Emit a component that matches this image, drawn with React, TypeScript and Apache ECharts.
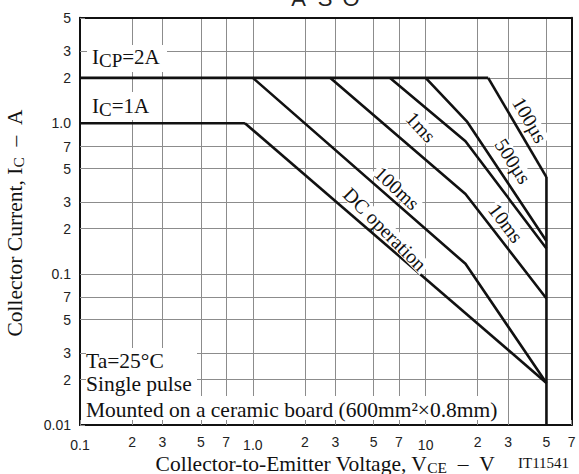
import React, { useEffect, useRef } from "react";
import * as echarts from "echarts";

// ---- axis ticks (real values) ----
const xTicks = [0.1, 0.2, 0.3, 0.5, 0.7, 1, 2, 3, 5, 7, 10, 20, 30, 50, 70];
const xTickLabels = ["0.1", "2", "3", "5", "7", "1.0", "2", "3", "5", "7", "10", "2", "3", "5", "7"];
const yTicks = [0.01, 0.02, 0.03, 0.05, 0.07, 0.1, 0.2, 0.3, 0.5, 0.7, 1, 2, 3, 5];
const yTickLabels = ["0.01", "2", "3", "5", "7", "0.1", "2", "3", "5", "7", "1.0", "2", "3", "5"];
const xRange = [0.1, 70];
const yRange = [0.01, 5];

// ---- curves: [VCE (V), IC (A)] ----
const icpLimit = [[0.1, 2], [23, 2]];
const icLimit = [[0.1, 1], [0.9, 1]];
const dcOperation = [[0.9, 1], [50, 0.019]];
const pulse100ms = [[1.0, 2], [17, 0.117], [50, 0.019]];
const pulse10ms = [[2.8, 2], [17, 0.34], [50, 0.069]];
const pulse1ms = [[6.2, 2], [17, 0.76], [50, 0.148]];
const pulse500us = [[10, 2], [17.3, 1.03], [50, 0.166]];
const pulse100us = [[23, 2], [50, 0.44]];
const vceoLimit = [[50, 0.44], [50, 0.01]];

const curves = [
  icpLimit,
  icLimit,
  dcOperation,
  pulse100ms,
  pulse10ms,
  pulse1ms,
  pulse500us,
  pulse100us,
  vceoLimit,
];

const SERIF = '"Liberation Serif", "Times New Roman", Times, serif';
const SANS = '"Liberation Sans", Arial, Helvetica, sans-serif';
const INK = "#111";
const GRID = "#8c8c8c";

const lg = (v: number) => Math.log10(v);
const toLog = (pts: number[][]) => pts.map(([x, y]) => [lg(x), lg(y)]);

const findLabel = (ticks: number[], labels: string[], v: number) => {
  const i = ticks.findIndex((t) => Math.abs(lg(t) - v) < 1e-6);
  return i >= 0 ? labels[i] : "";
};

const richMain = (size: number) => ({ fontSize: size, fontFamily: SERIF, fill: INK });
const richSub = (size: number, drop: number) => ({
  fontSize: size,
  fontFamily: SERIF,
  fill: INK,
  padding: [drop, 0, 0, 0],
});

const txt = (x: number, y: number, style: any, extra: any = {}) => ({
  type: "text",
  x,
  y,
  z: 5,
  style: { fill: INK, align: "left", verticalAlign: "middle", ...style },
  ...extra,
});

const box = (x: number, y: number, w: number, h: number) => ({
  type: "rect",
  z: 2,
  shape: { x, y, width: w, height: h },
  style: { fill: "#fff" },
});

const curveLabel = (text: string, x: number, y: number, deg: number, w: number) => {
  const rotation = (-deg * Math.PI) / 180;
  return [
    {
      type: "rect",
      x,
      y,
      rotation,
      z: 2,
      shape: { x: -w / 2, y: -8, width: w, height: 16 },
      style: { fill: "#fff" },
    },
    {
      type: "text",
      x,
      y,
      rotation,
      z: 5,
      style: { text, fontSize: 20, fontFamily: SERIF, fill: INK, align: "center", verticalAlign: "middle" },
    },
  ];
};

const frameAxis = (position: string) => ({
  type: "value",
  position,
  min: position === "top" ? lg(xRange[0]) : lg(yRange[0]),
  max: position === "top" ? lg(xRange[1]) : lg(yRange[1]),
  axisLine: { show: true, onZero: false, lineStyle: { color: INK, width: 2 } },
  axisTick: { show: false },
  axisLabel: { show: false },
  splitLine: { show: false },
});

// layer 1: axes, grid lines and curves
const plotOption: any = {
  animation: false,
  grid: { left: 80, right: 7.3, top: 17.8, bottom: 49 },
  xAxis: [
    {
      type: "value",
      position: "bottom",
      min: lg(xRange[0]),
      max: lg(xRange[1]),
      axisLine: { show: true, onZero: false, lineStyle: { color: INK, width: 2 } },
      axisTick: { show: true, inside: true, length: 5, lineStyle: { color: GRID }, customValues: xTicks.map(lg) },
      splitLine: { show: true, lineStyle: { color: GRID, width: 1 } },
      axisLabel: {
        customValues: xTicks.map(lg),
        margin: 10,
        formatter: (v: number) => {
          const s = findLabel(xTicks, xTickLabels, v);
          return Math.abs(v - Math.round(v)) < 1e-6 ? `{d|${s}}` : `{n|${s}}`;
        },
        rich: {
          n: { fontSize: 14, fontFamily: SANS, color: "#222" },
          d: { fontSize: 14, fontFamily: SANS, color: "#222", padding: [3, 0, 0, 0] },
        },
      },
    },
    frameAxis("top"),
  ],
  yAxis: [
    {
      type: "value",
      position: "left",
      min: lg(yRange[0]),
      max: lg(yRange[1]),
      axisLine: { show: true, onZero: false, lineStyle: { color: INK, width: 2 } },
      axisTick: { show: true, inside: true, length: 5, lineStyle: { color: GRID }, customValues: yTicks.map(lg) },
      splitLine: { show: true, lineStyle: { color: GRID, width: 1 } },
      axisLabel: {
        customValues: yTicks.map(lg),
        margin: 9,
        fontSize: 14,
        fontFamily: SANS,
        color: "#222",
        formatter: (v: number) => findLabel(yTicks, yTickLabels, v),
      },
    },
    frameAxis("right"),
  ],
  series: curves.map((d) => ({
    type: "line",
    xAxisIndex: 0,
    yAxisIndex: 0,
    data: toLog(d),
    showSymbol: false,
    symbol: "none",
    z: 3,
    lineStyle: { color: INK, width: 2.6 },
  })),
};

// layer 2: annotations (knock-out boxes + texts)
const annotationOption: any = {
  animation: false,
  graphic: [
    txt(298.5, -1.5, { text: "A", fontSize: 22, fontFamily: SANS, fill: "#222", align: "center" }),
    txt(325, -1.5, { text: "S", fontSize: 22, fontFamily: SANS, fill: "#222", align: "center" }),
    txt(351, -1.5, { text: "O", fontSize: 22, fontFamily: SANS, fill: "#222", align: "center" }),
    txt(
      15,
      223,
      {
        text: "{m|Collector Current, I}{s|C}{m|\u00a0\u00a0–\u00a0\u00a0A}",
        align: "center",
        rich: { m: richMain(21.5), s: richSub(15.5, 6) },
      },
      { rotation: Math.PI / 2 }
    ),
    txt(325, 464, {
      text: "{m|Collector-to-Emitter Voltage, V}{s|CE}{m|\u00a0\u00a0–\u00a0\u00a0V}",
      align: "center",
      rich: { m: richMain(21.5), s: richSub(15.5, 6) },
    }),
    txt(518, 463, { text: "IT11541", fontSize: 15, fontFamily: SERIF }),
    box(87, 45, 80, 27),
    txt(92, 57, { text: "{m|I}{s|CP}{m|=2A}", rich: { m: richMain(21), s: richSub(19, 7) } }),
    box(87, 92, 66, 28),
    txt(92, 105.5, { text: "{m|I}{s|C}{m|=1A}", rich: { m: richMain(21), s: richSub(19, 7) } }),
    box(86, 348, 111, 72),
    box(86, 396, 417, 24),
    txt(86, 361, { text: "Ta=25°C", fontSize: 21.5, fontFamily: SERIF }),
    txt(86, 383.5, { text: "Single pulse", fontSize: 21.5, fontFamily: SERIF }),
    txt(86, 410, { text: "Mounted on a ceramic board (600mm²×0.8mm)", fontSize: 21.5, fontFamily: SERIF }),
    ...curveLabel("100µs", 530, 120, 60, 52),
    ...curveLabel("500µs", 513, 161, 57, 52),
    ...curveLabel("1ms", 421, 127, 47, 36),
    ...curveLabel("10ms", 506, 223, 53, 46),
    ...curveLabel("100ms", 397, 188, 43, 57),
    ...curveLabel("DC operation", 385, 229, 45, 114),
  ],
};

function Layer({ option, z }: { option: any; z: number }) {
  const ref = useRef<HTMLDivElement>(null);
  useEffect(() => {
    if (!ref.current) return;
    const chart = echarts.init(ref.current, null, { renderer: "svg" });
    chart.setOption(option);
    return () => chart.dispose();
  }, [option]);
  return (
    <div
      ref={ref}
      style={{ position: "fixed", left: 0, top: 0, width: 579, height: 474, zIndex: z, pointerEvents: z > 1 ? "none" : "auto" }}
    />
  );
}

export default function App() {
  return (
    <div style={{ position: "fixed", left: 0, top: 0, width: 579, height: 474, background: "#fff" }}>
      <Layer option={plotOption} z={1} />
      <Layer option={annotationOption} z={2} />
    </div>
  );
}
